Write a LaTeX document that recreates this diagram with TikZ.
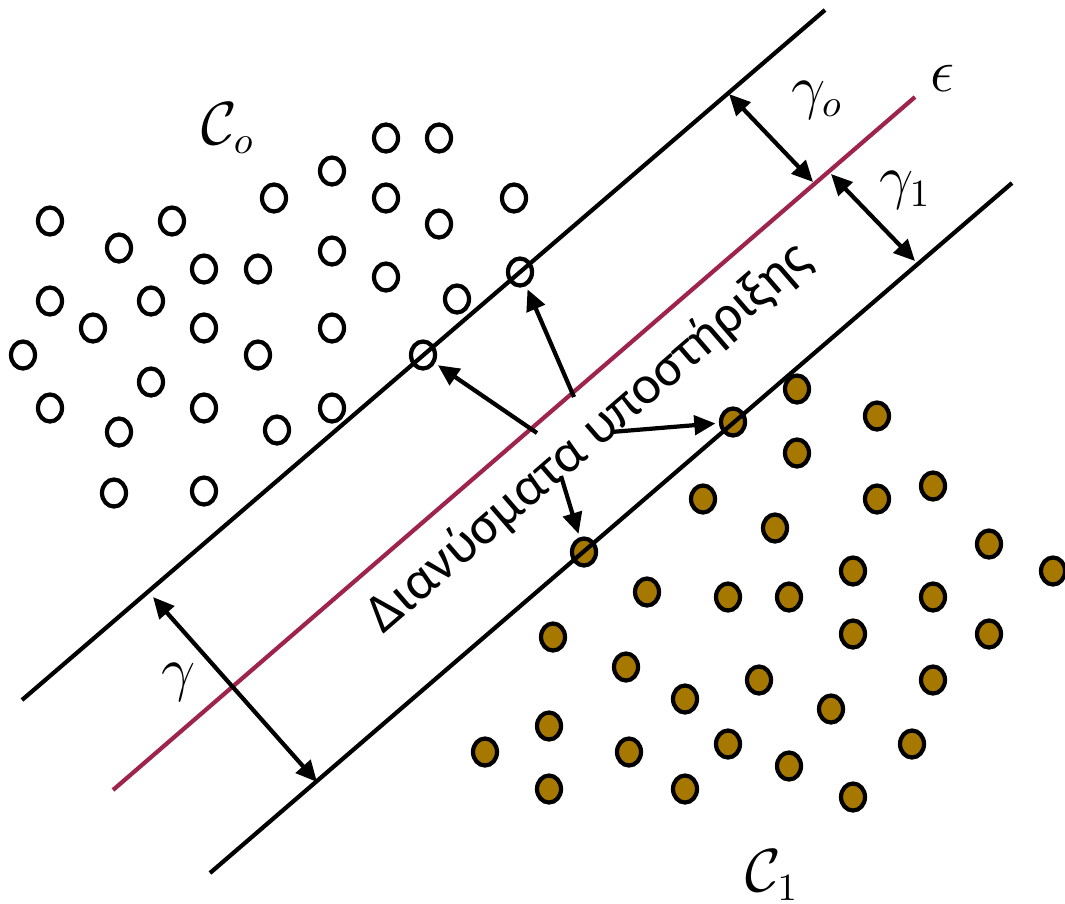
\documentclass[tikz,border=0pt]{standalone}
\usepackage{fontspec}
\usepackage{amsmath}
\usetikzlibrary{arrows.meta,shapes.geometric}
\newfontfamily\greekfont{Carlito}
\definecolor{hyperred}{RGB}{158,36,78}
\definecolor{classgold}{RGB}{166,120,0}

\begin{document}
\begin{tikzpicture}[x=0.01cm,y=-0.01cm,
  dot0/.style={draw,ellipse,line width=1.2pt,minimum width=0.24cm,
               minimum height=0.27cm,inner sep=0pt},
  dot1/.style={dot0,fill=classgold},
  bound/.style={line width=1.2pt},
  hyper/.style={line width=1.2pt,color=hyperred},
  marg/.style={{Triangle[length=6pt,width=5.5pt]}-{Triangle[length=6pt,width=5.5pt]},
               line width=1.2pt},
  arr/.style={-{Triangle[length=6pt,width=5.5pt]},line width=1.2pt,shorten >=1pt},
  lbl/.style={font=\fontsize{16}{19}\selectfont,inner sep=0pt}]
\useasboundingbox (0,0) rectangle (1065,903);
\foreach \x/\y [count=\i] in {386/138,439/138,332/171,274/198,386/198,514/198,
    50/221,172/221,439/224,119/248,332/251,204/269,258/269,386/277,50/301,
    151/301,457/299,93/328,204/328,332/328,23/355,258/355,151/382,50/408,
    204/408,332/408,119/432,277/430,114/493,204/491}
  \node[dot0] (o\i) at (\x,\y) {};
\foreach \x/\y [count=\i] in {797/389,877/416,797/453,933/486,703/499,877/499,
    775/528,989/544,1053/571,853/571,647/592,728/597,789/597,933/597,553/637,
    853/634,989/634,626/667,759/680,933/680,685/699,831/709,549/726,485/752,
    629/752,728/744,912/744,789/766,549/789,685/789,853/797}
  \node[dot1] (f\i) at (\x,\y) {};
\node[dot0] (sv0a) at (423,355) {};
\node[dot0] (sv0b) at (520,272) {};
\node[dot1] (sv1a) at (733,422) {};
\node[dot1] (sv1b) at (584,552) {};
\coordinate (u0) at (22,700);
\coordinate (u1) at (825,10);
\coordinate (h0) at (113,790);
\coordinate (h1) at (915,97);
\coordinate (l0) at (210,873);
\coordinate (l1) at (1012,183);
\draw[bound] (u0) -- (u1);
\draw[hyper] (h0) -- (h1);
\draw[bound] (l0) -- (l1);
\coordinate (go0) at (729,94);
\coordinate (go1) at (813,182);
\coordinate (gi0) at (831,174);
\coordinate (gi1) at (915,261);
\coordinate (g0) at (153,597);
\coordinate (g1) at (317,782);
\draw[marg] (go0) -- (go1);
\draw[marg] (gi0) -- (gi1);
\draw[marg] (g0) -- (g1);
\node[lbl] (lgo) at (817,100) {$\gamma_o$};
\node[lbl] (lgi) at (905,190) {$\gamma_1$};
\node[lbl] (lg) at (179,682) {$\gamma$};
\node[lbl] (leps) at (942,78) {$\epsilon$};
\node[lbl] (lc0) at (228,128) {$\mathcal{C}_o$};
\node[lbl] (lc1) at (772,875) {$\mathcal{C}_1$};
\node[rotate=40.8,font=\greekfont\fontsize{15.5}{18}\selectfont,inner sep=0pt]
  (svtext) at (589,438) {Διανύσματα υποστήριξης};
\coordinate (t1) at (537,433);
\coordinate (t2) at (574,397);
\coordinate (t3) at (611,432);
\coordinate (t4) at (561,476);
\draw[arr] (t1) -- (sv0a);
\draw[arr] (t2) -- (sv0b);
\draw[arr] (t3) -- (sv1a);
\draw[arr] (t4) -- (sv1b);
\end{tikzpicture}
\end{document}
